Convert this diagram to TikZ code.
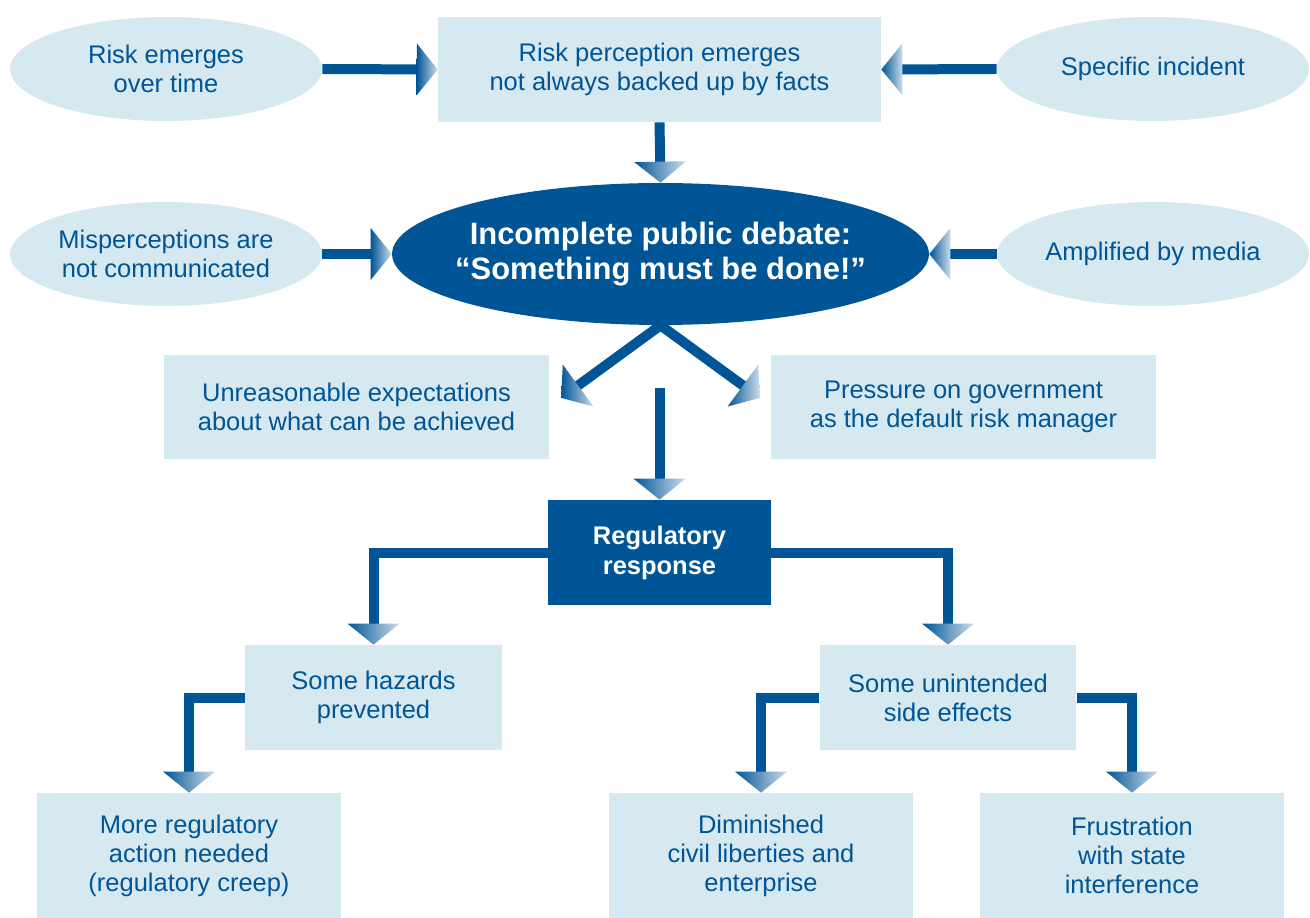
\documentclass[tikz,border=0pt]{standalone}
\usepackage{fontspec}
\setmainfont{Liberation Sans}
\usetikzlibrary{shapes.geometric,decorations.markings}
\definecolor{dblue}{RGB}{0,85,150}
\definecolor{lblue}{RGB}{214,233,241}
\tikzset{
  txt/.style={text=dblue, align=center, font=\fontsize{14.5}{16.5}\selectfont},
  oval/.style={ellipse, fill=lblue, inner sep=0pt, minimum width=6.24cm, minimum height=2.08cm, txt},
  lbox/.style={rectangle, fill=lblue, inner sep=0pt, txt},
  headmark/.style={decorate, decoration={markings, mark=at position 1 with {
      \shade[left color=dblue, middle color=dblue!90, right color=dblue!20]
        (-0.42cm,-0.52cm) -- (0,0) -- (-0.42cm,0.52cm) -- cycle;}}},
  flow/.style={draw=dblue, line width=0.2cm, line join=miter, shorten >=0.40cm},
}
\begin{document}
\begin{tikzpicture}[x=0.02cm, y=-0.02cm]
\useasboundingbox (0,0) rectangle (1310,918);
% nodes
\node[oval] (e1) at (166,69) {Risk emerges\\over time};
\node[lbox, minimum width=8.86cm, minimum height=2.1cm] (r2) at (659.5,69.5) {Risk perception emerges\\not always backed up by facts};
\node[oval] (e3) at (1153,69) {Specific incident};
\node[oval] (e4) at (166,254) {Misperceptions are\\not communicated};
\node[ellipse, fill=dblue, inner sep=0pt, minimum width=10.74cm, minimum height=2.84cm] (e5) at (660.5,254) {};
\node[text=white, align=center, font=\bfseries\fontsize{17.6}{20}\selectfont] (e5t) at (e5.center) {Incomplete public debate:\\“Something must be done!”};
\node[oval] (e6) at (1153,254) {Amplified by media};
\node[lbox, minimum width=7.7cm, minimum height=2.08cm] (r7) at (356.5,407) {Unreasonable expectations\\about what can be achieved};
\node[lbox, minimum width=7.7cm, minimum height=2.08cm] (r8) at (963.5,407) {Pressure on government\\as the default risk manager};
\node[rectangle, fill=dblue, inner sep=0pt, minimum width=4.46cm, minimum height=2.1cm, text=white, align=center,
      font=\bfseries\fontsize{14.5}{17}\selectfont] (r9) at (659.5,552.5) {Regulatory\\response};
\node[lbox, minimum width=5.14cm, minimum height=2.1cm] (r10) at (373.5,697.5) {Some hazards\\prevented};
\node[lbox, minimum width=5.14cm, minimum height=2.1cm] (r11) at (948,697.5) {Some unintended\\side effects};
\node[lbox, minimum width=6.08cm, minimum height=2.5cm] (r12) at (189,855.5) {More regulatory\\action needed\\(regulatory creep)};
\node[lbox, minimum width=6.08cm, minimum height=2.5cm] (r13) at (761,855.5) {Diminished\\civil liberties and\\enterprise};
\node[lbox, minimum width=6.08cm, minimum height=2.5cm] (r14) at (1132,855.5) {Frustration\\with state\\interference};
% free ends
\coordinate (t7) at (561,398);
\coordinate (t8) at (760,398);
\coordinate (s9) at (659.5,388);
% connectors
\draw[flow] (e1.east) -- (r2.west);
\path[headmark] (e1.east) -- (r2.west);
\draw[flow] (e3.west) -- (r2.east);
\path[headmark] (e3.west) -- (r2.east);
\draw[flow] (r2.south) -- (e5.north);
\path[headmark] (r2.south) -- (e5.north);
\draw[flow] (e4.east) -- (e5.west);
\path[headmark] (e4.east) -- (e5.west);
\draw[flow] (e6.west) -- (e5.east);
\path[headmark] (e6.west) -- (e5.east);
\draw[flow] (e5.south) -- (t7);
\path[headmark] (e5.south) -- (t7);
\draw[flow] (e5.south) -- (t8);
\path[headmark] (e5.south) -- (t8);
\draw[flow] (s9) -- (r9.north);
\path[headmark] (s9) -- (r9.north);
\draw[flow] (r9.west) -| (r10.north);
\path[headmark] (r9.west) -| (r10.north);
\draw[flow] (r9.east) -| (r11.north);
\path[headmark] (r9.east) -| (r11.north);
\draw[flow] (r10.west) -| (r12.north);
\path[headmark] (r10.west) -| (r12.north);
\draw[flow] (r11.west) -| (r13.north);
\path[headmark] (r11.west) -| (r13.north);
\draw[flow] (r11.east) -| (r14.north);
\path[headmark] (r11.east) -| (r14.north);
\end{tikzpicture}
\end{document}
